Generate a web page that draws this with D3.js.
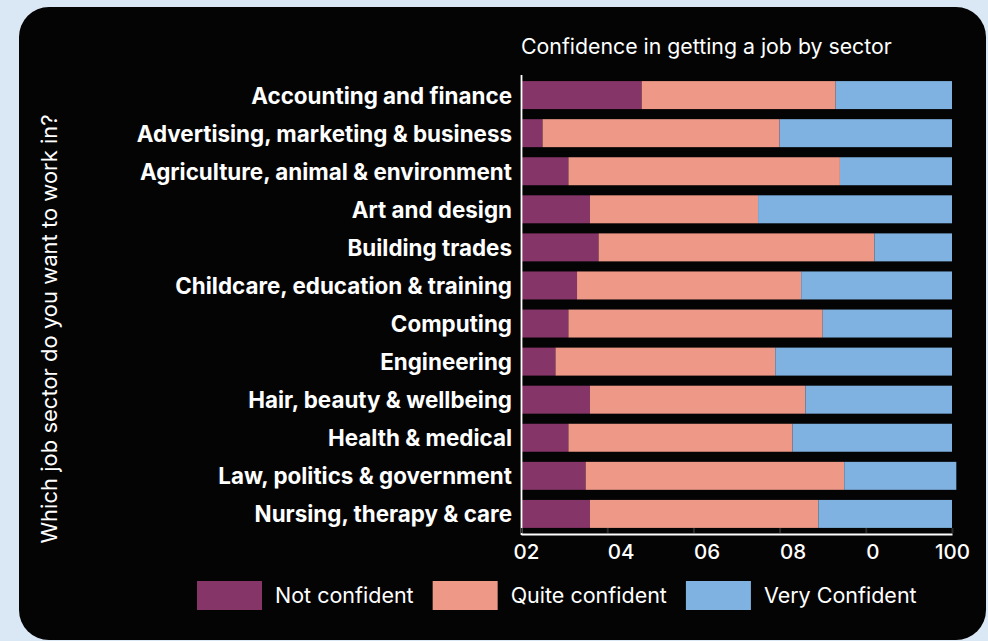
<!DOCTYPE html>
<html>
<head>
<meta charset="utf-8">
<script src="https://cdn.jsdelivr.net/npm/d3@7"></script>
<style>
  html, body { margin: 0; padding: 0; background: #dae7f5; }
  svg { display: block; font-family: Inter, "Noto Sans", sans-serif; }
</style>
</head>
<body>
<svg id="chart" width="988" height="641"></svg>
<script>
// Sectors, top to bottom
const sectors = [
  "Accounting and finance",
  "Advertising, marketing & business",
  "Agriculture, animal & environment",
  "Art and design",
  "Building trades",
  "Childcare, education & training",
  "Computing",
  "Engineering",
  "Hair, beauty & wellbeing",
  "Health & medical",
  "Law, politics & government",
  "Nursing, therapy & care"
];

// Share of respondents (%) in each confidence group
const notConfident   = [28, 5, 11, 16, 18, 13, 11, 8, 16, 11, 15, 16];
const quiteConfident = [45, 55, 63, 39, 64, 52, 59, 51, 50, 52, 60, 53];
const veryConfident  = [27, 40, 26, 45, 18, 35, 30, 41, 34, 37, 26, 31];

const seriesNames  = ["Not confident", "Quite confident", "Very Confident"];
const seriesColors = ["#853567", "#ee9888", "#7fb2e0"];

const tickValues = [0, 20, 40, 60, 80, 100];
const tickLabels = ["02", "04", "06", "08", "0", "100"];

const titleText  = "Confidence in getting a job by sector";
const yTitleText = "Which job sector do you want to work in?";

const FONT = "Inter, sans-serif";
const svg = d3.select("#chart");

// Dark rounded panel
svg.append("rect")
  .attr("x", 19).attr("y", 7)
  .attr("width", 967).attr("height", 633)
  .attr("rx", 30).attr("ry", 30)
  .attr("fill", "#040404");

const plot = { left: 521, right: 952, top: 75, bottom: 534 };

const x = d3.scaleLinear().domain([0, 100]).range([plot.left, plot.right]);
const y = d3.scaleBand().domain(sectors)
  .range([plot.top, plot.bottom])
  .paddingInner(0.265).paddingOuter(0.16);

const rows = sectors.map((s, i) => ({
  sector: s,
  "Not confident": notConfident[i],
  "Quite confident": quiteConfident[i],
  "Very Confident": veryConfident[i]
}));

const stacked = d3.stack().keys(seriesNames)(rows);
const color = d3.scaleOrdinal().domain(seriesNames).range(seriesColors);

// Stacked bars
svg.append("g")
  .selectAll("g")
  .data(stacked)
  .join("g")
    .attr("fill", d => color(d.key))
  .selectAll("rect")
  .data(d => d)
  .join("rect")
    .attr("x", d => x(d[0]))
    .attr("y", d => y(d.data.sector))
    .attr("width", d => x(d[1]) - x(d[0]))
    .attr("height", y.bandwidth());

// Y axis: white line with bold sector names
const yAxis = svg.append("g")
  .attr("transform", `translate(${plot.left},0)`)
  .call(d3.axisLeft(y).tickSize(0).tickPadding(9));
yAxis.select(".domain")
  .attr("stroke", "#ffffff").attr("stroke-width", 1.8)
  .attr("d", `M0.5,${plot.top}V${plot.bottom + 1}`);
yAxis.selectAll("text")
  .attr("fill", "#ffffff")
  .attr("font-size", 22.4)
  .attr("font-weight", 700)
  .attr("font-family", FONT)
  .attr("dy", "0.38em");

// X axis: white baseline, short dark inner ticks
const xAxis = svg.append("g")
  .attr("transform", `translate(0,${plot.bottom})`)
  .call(d3.axisBottom(x).tickValues(tickValues).tickSize(-5).tickSizeOuter(0)
    .tickFormat((d, i) => tickLabels[i]));
xAxis.select(".domain").attr("stroke", "#ffffff").attr("stroke-width", 1.8);
xAxis.selectAll(".tick line").attr("stroke", "#2a2a2a").attr("stroke-width", 2).attr("transform", "translate(0,-1)");
xAxis.selectAll(".tick text")
  .attr("fill", "#ffffff")
  .attr("font-size", 20.5)
  .attr("font-weight", 500)
  .attr("font-family", FONT)
  .attr("y", 25)
  .attr("dy", 0)
  .attr("text-anchor", (d, i) => i === tickValues.length - 1 ? "middle" : "start")
  .attr("x", (d, i) => i === 0 ? -8 : (i === tickValues.length - 1 ? 0 : 0));

// Chart title
svg.append("text")
  .attr("x", plot.left).attr("y", 54)
  .attr("fill", "#ffffff")
  .attr("font-family", FONT)
  .attr("font-size", 21.3)
  .text(titleText);

// Rotated y-axis title
svg.append("text")
  .attr("transform", "translate(57,329) rotate(-90)")
  .attr("text-anchor", "middle")
  .attr("fill", "#ffffff")
  .attr("font-family", FONT)
  .attr("font-size", 22)
  .text(yTitleText);

// Legend
const legend = svg.append("g").attr("transform", "translate(197,581)");
let lx = 0;
seriesNames.forEach((name) => {
  const g = legend.append("g").attr("transform", `translate(${lx},0)`);
  g.append("rect")
    .attr("width", 65).attr("height", 29)
    .attr("fill", color(name));
  const t = g.append("text")
    .attr("x", 78).attr("y", 22)
    .attr("fill", "#ffffff")
    .attr("font-family", FONT)
    .attr("font-size", 21.5)
    .text(name);
  lx += 78 + t.node().getComputedTextLength() + 19;
});
</script>
</body>
</html>
